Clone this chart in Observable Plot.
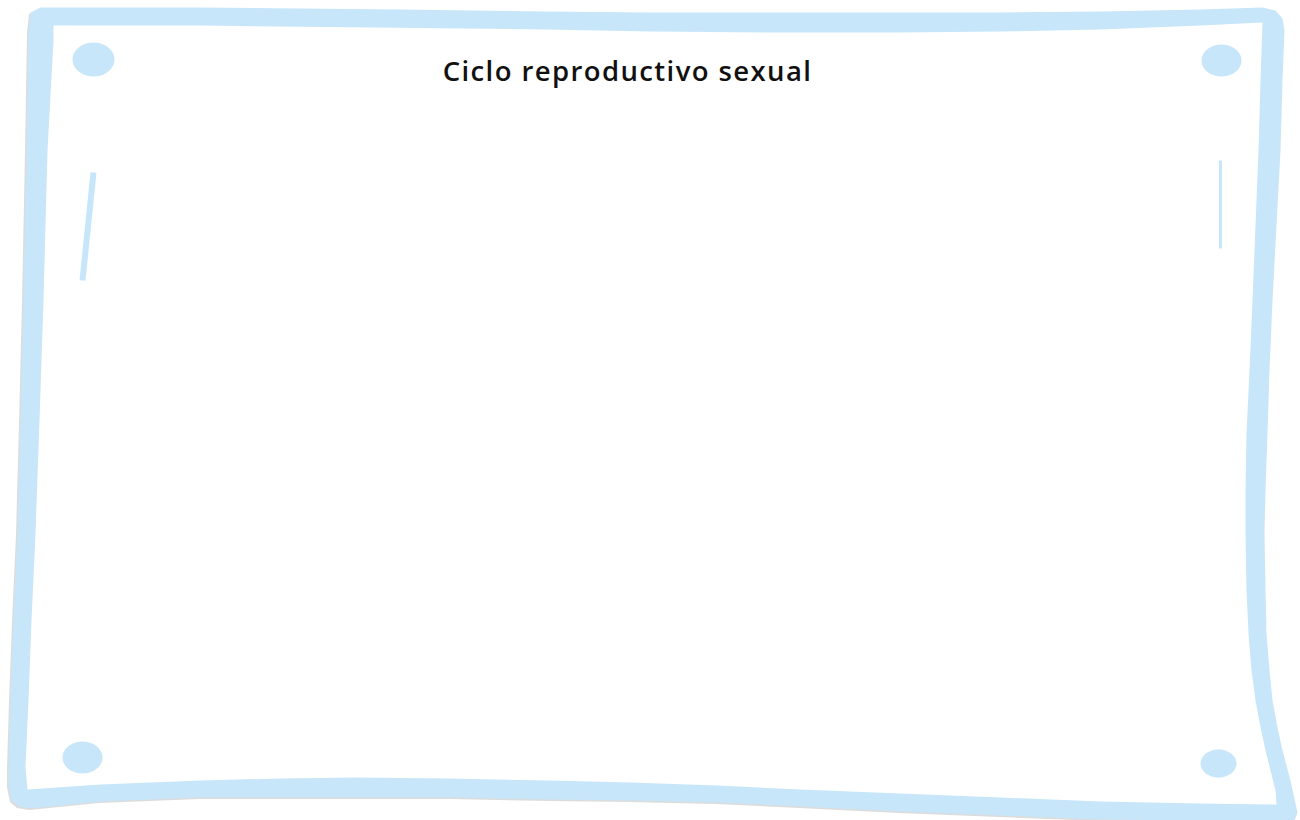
<!DOCTYPE html>
<html>
<head>
<meta charset="utf-8">
<script src="https://cdn.jsdelivr.net/npm/d3@7"></script>
<script src="https://cdn.jsdelivr.net/npm/@observablehq/plot@0.6"></script>
<style>
  html, body { margin: 0; padding: 0; background: #fff; }
  #chart svg { display: block; }
</style>
</head>
<body>
<div id="chart"></div>
<script>
// Title
const titleText = "Ciclo reproductivo sexual";

// Frame outline (outer edge of the hand-drawn border), clockwise
const outerX = [30, 40, 120, 200, 300, 400, 544, 650, 774, 900, 1000, 1100, 1200, 1262, 1275, 1282, 1284, 1282, 1280, 1276, 1272, 1269, 1267, 1265, 1264, 1265, 1266, 1269, 1272, 1277, 1282, 1290, 1297, 1294, 1200, 1100, 1000, 900, 800, 717, 630, 550, 450, 355, 280, 200, 100, 30, 18, 11, 8, 8, 10, 13, 17, 20, 23, 26, 28];
const outerY = [12, 7, 7, 7, 8, 9, 11, 12, 12, 12, 12, 11, 9, 7, 10, 18, 30, 80, 150, 225, 300, 370, 433, 490, 533, 590, 633, 670, 700, 727, 750, 780, 812, 820, 820, 819, 815, 811, 806, 802, 800, 799, 797, 797, 797, 797, 801, 808, 806, 800, 785, 767, 700, 620, 533, 420, 300, 150, 30];

// Frame inner edge (white paper)
const innerX = [53, 120, 200, 370, 544, 650, 774, 900, 1000, 1100, 1200, 1262, 1260, 1258, 1255, 1252, 1249, 1246, 1245, 1245, 1246, 1248, 1251, 1255, 1260, 1265, 1270, 1275, 1276, 1200, 1100, 1000, 900, 800, 717, 630, 550, 450, 355, 280, 200, 100, 27, 25, 28, 31, 35, 39, 43, 47, 53];
const innerY = [25, 25, 25, 27, 29, 31, 32, 32, 31, 29, 25, 22, 80, 150, 225, 300, 370, 433, 490, 533, 590, 633, 670, 700, 727, 750, 770, 790, 804, 803, 801, 797, 793, 789, 785, 782, 780, 778, 777, 778, 780, 784, 789, 767, 700, 620, 533, 420, 300, 150, 40];

// Corner dots: centre and radii
const dotX = [93, 1221, 82, 1218];
const dotY = [59, 60, 757, 763];
const dotRx = [21, 20, 20, 18];
const dotRy = [17, 16, 16, 14];

// Decorative strokes
const strokeX1 = [93, 1220];
const strokeY1 = [172, 160];
const strokeX2 = [82, 1220];
const strokeY2 = [280, 248];
const strokeW = [6, 3];

const blue = "#c8e6fa";

const outer = outerX.map((x, i) => ({x, y: outerY[i]}));
const inner = innerX.map((x, i) => ({x, y: innerY[i]}));
const shadow = outer.map(d => ({x: d.x - 1.5, y: d.y + 1.5}));

const ellipses = [];
dotX.forEach((cx, k) => {
  for (let a = 0; a < 48; a++) {
    const t = a / 48 * 2 * Math.PI;
    ellipses.push({k, x: cx + dotRx[k] * Math.cos(t), y: dotY[k] + dotRy[k] * Math.sin(t)});
  }
});
const strokes = strokeX1.map((x1, i) => ({x1, y1: strokeY1[i], x2: strokeX2[i], y2: strokeY2[i], w: strokeW[i]}));

const chart = Plot.plot({
  width: 1300,
  height: 820,
  margin: 0,
  x: {domain: [0, 1300], range: [0, 1300], axis: null},
  y: {domain: [0, 820], range: [0, 820], axis: null},
  style: {background: "#fff", overflow: "visible"},
  marks: [
    Plot.line(shadow, {x: "x", y: "y", curve: "linear-closed", fill: "#c4c4c4", stroke: "none", fillOpacity: 0.6}),
    Plot.line(outer, {x: "x", y: "y", curve: "linear-closed", fill: blue, stroke: "none"}),
    Plot.line(inner, {x: "x", y: "y", curve: "linear-closed", fill: "#fff", stroke: "none"}),
    Plot.line(ellipses, {x: "x", y: "y", z: "k", curve: "linear-closed", fill: blue, stroke: "none"}),
    Plot.link(strokes.filter(d => d.w === 6), {x1: "x1", y1: "y1", x2: "x2", y2: "y2", stroke: blue, strokeWidth: 6, strokeLinecap: "butt"}),
    Plot.link(strokes.filter(d => d.w === 3), {x1: "x1", y1: "y1", x2: "x2", y2: "y2", stroke: blue, strokeWidth: 3, strokeLinecap: "butt"}),
    Plot.text([titleText], {x: () => 627, y: () => 80, text: d => d, fontSize: 27.5, fontWeight: 600, fill: "#111", textAnchor: "middle", lineAnchor: "bottom", fontFamily: "'Open Sans', sans-serif"})
  ]
});
chart.querySelectorAll("text").forEach(t => { t.style.letterSpacing = "1.4px"; });
document.getElementById("chart").appendChild(chart);
</script>
</body>
</html>
